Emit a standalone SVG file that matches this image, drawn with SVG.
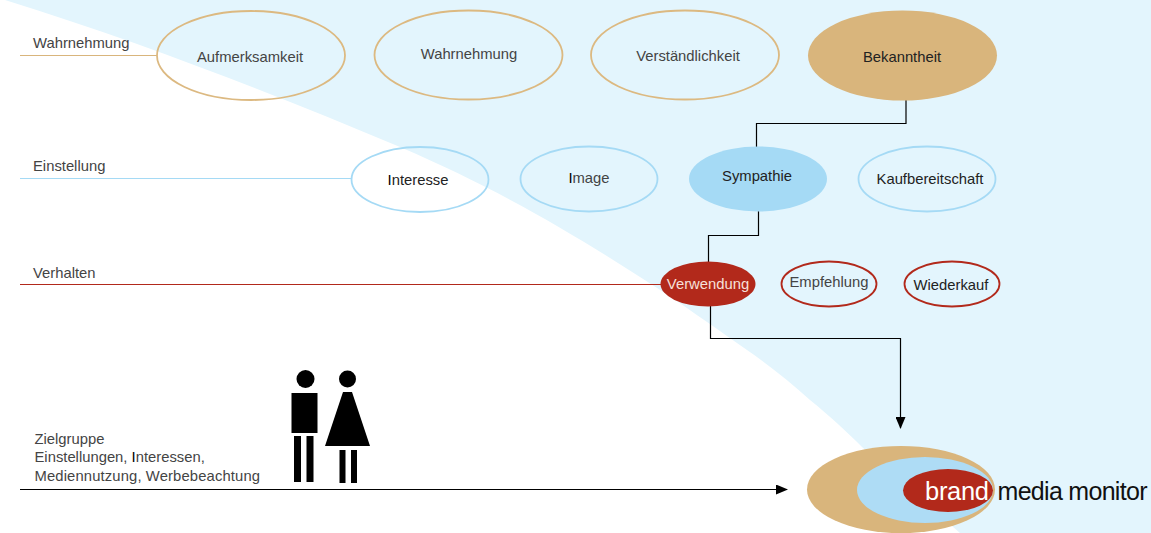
<svg xmlns="http://www.w3.org/2000/svg" width="1151" height="533" viewBox="0 0 1151 533">
<style>
text{font-family:"Liberation Sans",Arial,sans-serif;font-size:14.800px;fill:#444;text-anchor:middle}
.l{text-anchor:start}
.d{fill:#222}
.tan{fill:none;stroke:#dcb981;stroke-width:1.800}
.blue{fill:none;stroke:#a5daf5;stroke-width:1.800}
.red{fill:none;stroke:#b2291b;stroke-width:1.800}
.c{fill:none;stroke:#000;stroke-width:1.200}
</style>
<defs><marker id="a" markerWidth="12" markerHeight="10" refX="11" refY="5" orient="auto" markerUnits="userSpaceOnUse" viewBox="0 0 12 10"><path d="M0 0L12 5L0 10Z" fill="#000"/></marker></defs>
<rect width="1151" height="533" fill="#fff"/>
<path id="bg" d="M5 0C150 45 280 97 400 147C500 190 570 232 640 277C680 302 715 328 747 350C770 366 790 382 810 400C830 416 848 433 862 447L960 533H1151V0Z" fill="#e3f5fd"/>
<g id="connectors">
<path d="M20 55.500H157" stroke="#d9b57c" stroke-width="1" fill="none"/>
<path d="M20 178.500H351" stroke="#a5daf5" stroke-width="1" fill="none"/>
<path d="M20 284.500H661" stroke="#b2291b" stroke-width="1" fill="none"/>
<path class="c" d="M906 100V123.500H756.500V147"/>
<path class="c" d="M758.500 211V235.500H708.500V262"/>
<path class="c" d="M710.500 306V338.500H900.500V428" marker-end="url(#a)"/>
<path class="c" d="M20 489.500H787" marker-end="url(#a)"/>
</g>
<text class="l" x="33" y="48">Wahrnehmung</text>
<text class="l" x="33" y="171">Einstellung</text>
<text class="l" x="33" y="278">Verhalten</text>
<text class="l" x="34.500" y="444">Zielgruppe</text>
<text class="l" x="34.500" y="462">Einstellungen, <tspan fill="#000">I</tspan>nteressen,</text>
<text class="l" x="34.500" y="481" style="letter-spacing:.13px">Mediennutzung, Werbebeachtung</text>
<g id="n1"><ellipse class="tan" cx="251" cy="55.500" rx="94" ry="44.500"/><text x="250" y="62">Aufmerksamkeit</text></g>
<g id="n2"><ellipse class="tan" cx="468.500" cy="55" rx="94" ry="44.500"/><text x="469" y="59">Wahrnehmung</text></g>
<g id="n3"><ellipse class="tan" cx="685" cy="55" rx="94" ry="44.500"/><text x="688" y="61">Verständlichkeit</text></g>
<g id="n4"><ellipse cx="902.500" cy="55.500" rx="94.500" ry="45" fill="#d9b57c"/><text class="d" x="902" y="62">Bekanntheit</text></g>
<g id="n5"><ellipse class="blue" cx="420" cy="179.500" rx="68.500" ry="32.500"/><text class="d" x="418" y="185"><tspan fill="#000">I</tspan>nteresse</text></g>
<g id="n6"><ellipse class="blue" cx="589" cy="179" rx="68.500" ry="32.500"/><text x="589" y="183"><tspan fill="#000">I</tspan>mage</text></g>
<g id="n7"><ellipse cx="758" cy="179" rx="69" ry="32.500" fill="#a5daf5"/><text class="d" x="757" y="181">Sympathie</text></g>
<g id="n8"><ellipse class="blue" cx="927" cy="179" rx="68.500" ry="32.500"/><text class="d" x="930" y="184">Kaufbereitschaft</text></g>
<g id="n9"><ellipse cx="708" cy="284" rx="47.500" ry="22.500" fill="#b2291b"/><text x="708" y="289" style="fill:#f7e0da">Verwendung</text></g>
<g id="n10"><ellipse class="red" cx="829" cy="284" rx="47.500" ry="22.500"/><text x="829" y="287">Empfehlung</text></g>
<g id="n11"><ellipse class="red" cx="952" cy="284" rx="47.500" ry="22.500"/><text class="d" x="951" y="290">Wiederkauf</text></g>
<g id="man" fill="#000"><circle cx="305.500" cy="379" r="9"/><rect x="291.500" y="393" width="26" height="40"/><rect x="294" y="436" width="7" height="46"/><rect x="306.500" y="436" width="7" height="46"/></g>
<g id="woman" fill="#000"><circle cx="347.500" cy="379" r="8.500"/><path d="M343 392H352L370 446H325Z"/><rect x="339.500" y="450" width="6" height="33"/><rect x="351" y="450" width="6" height="33"/></g>
<g id="brand"><ellipse cx="901" cy="489.500" rx="94" ry="43.500" fill="#d9b57c"/><ellipse cx="925" cy="490" rx="68" ry="33" fill="#aedcf5"/><ellipse cx="948" cy="490.500" rx="45" ry="21.500" fill="#b2291b"/>
<text class="l" x="925" y="500" style="font-size:25.500px;fill:#fff;letter-spacing:-.3px">brand</text><text class="l" x="997.500" y="500" style="font-size:25px;fill:#111;letter-spacing:-.7px">media monitor</text></g>
</svg>
